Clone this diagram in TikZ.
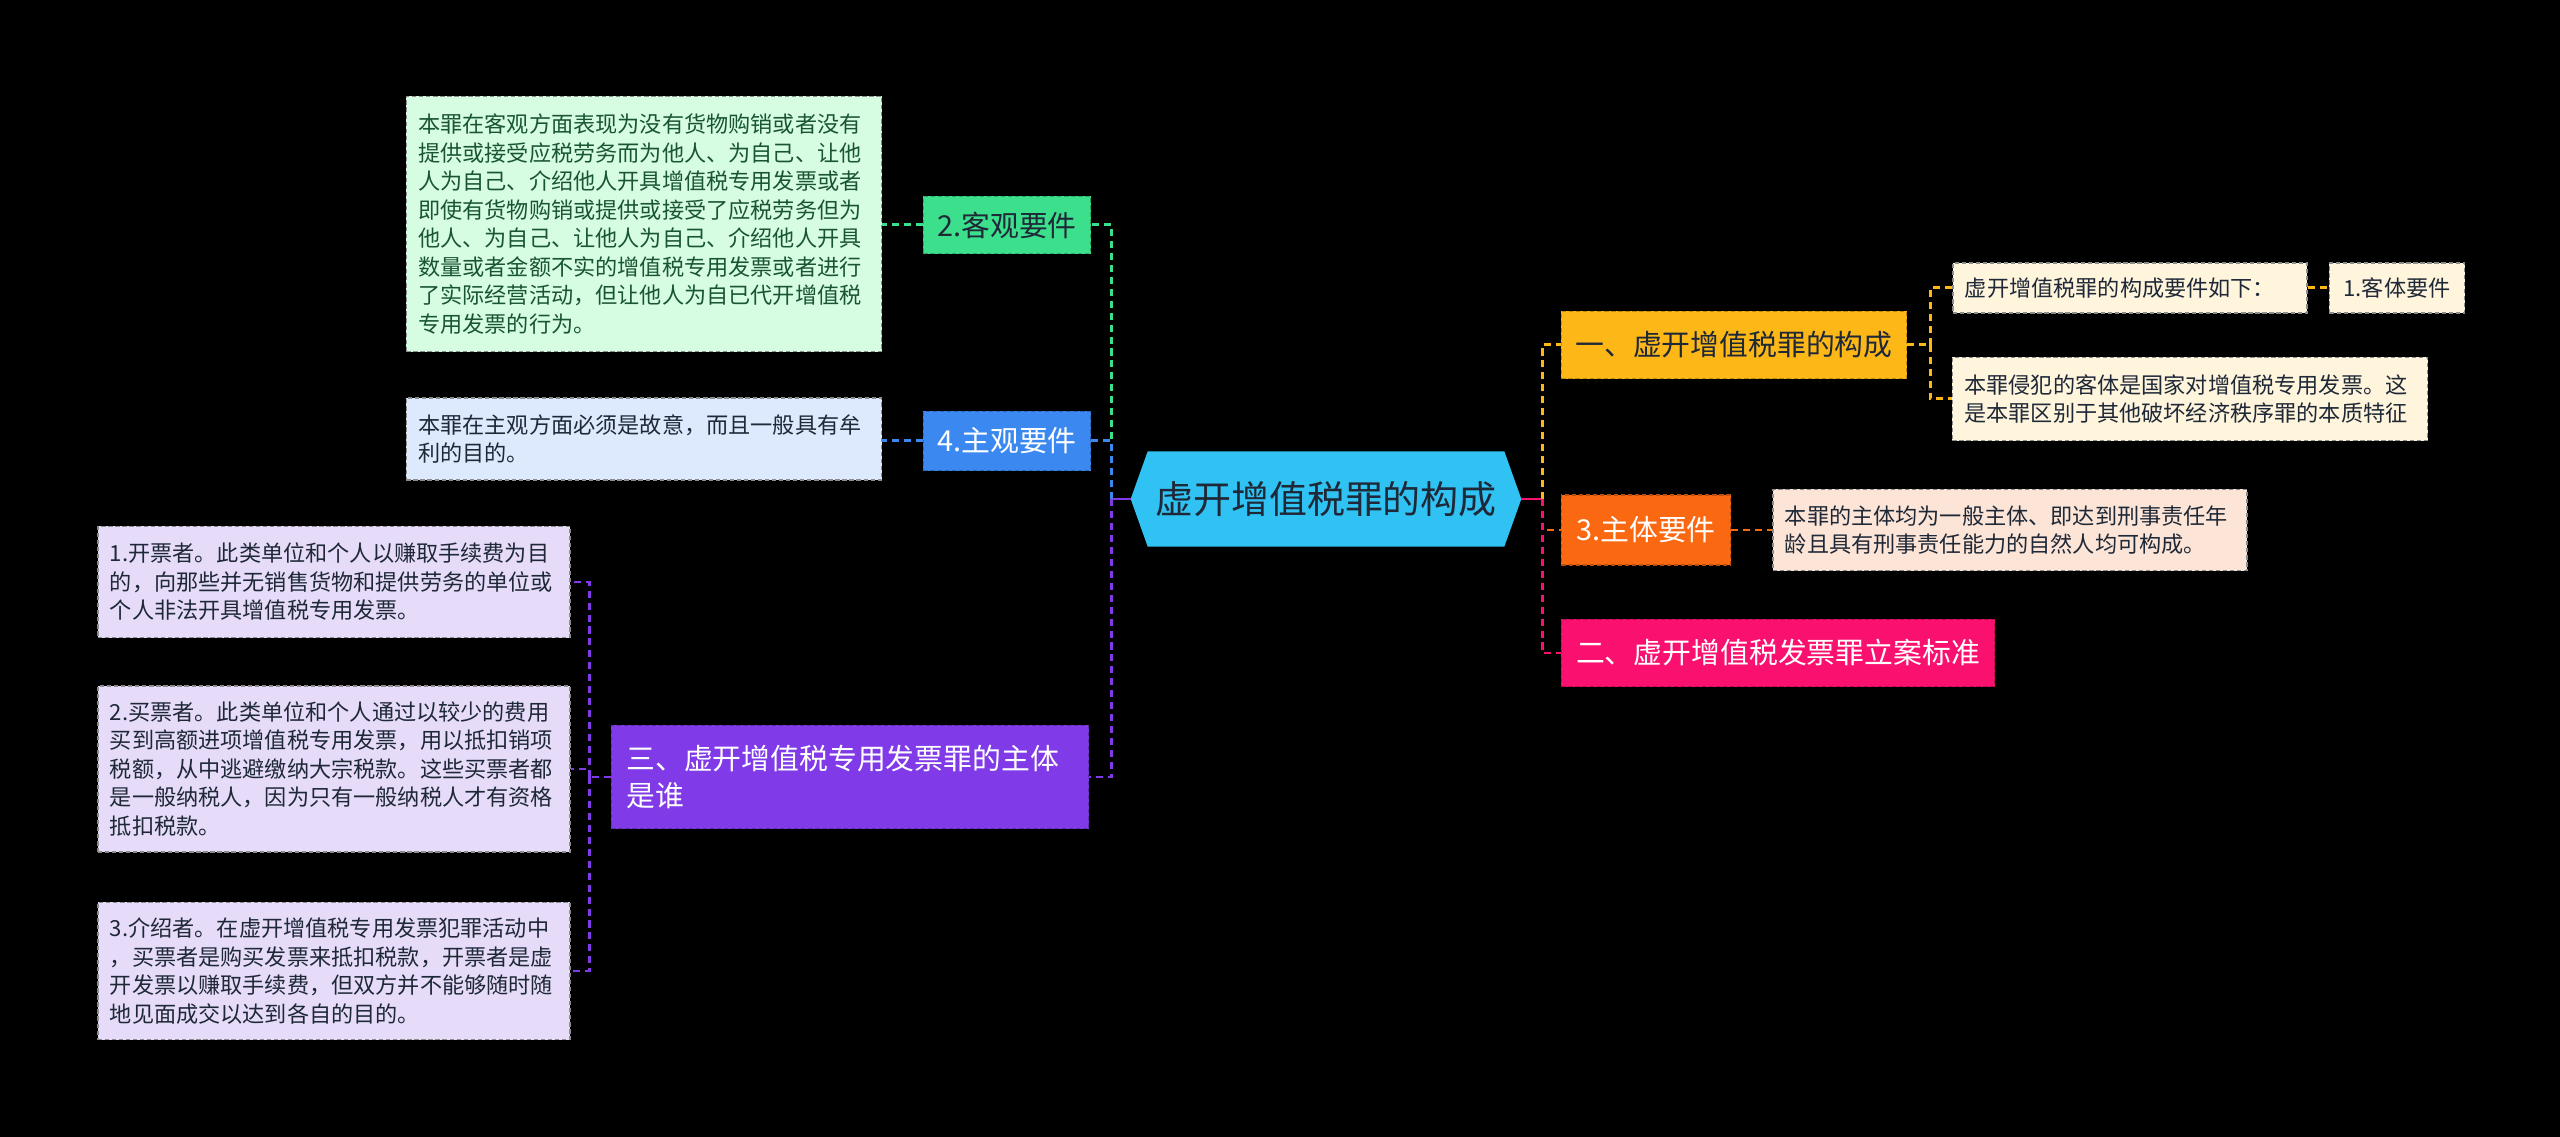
\documentclass[tikz,border=0pt]{standalone}
\usepackage{fontspec}
\usepackage{xcolor}
\usepackage{tikz}
\usetikzlibrary{backgrounds}
\setmainfont{Noto Sans CJK SC}
\definecolor{croot}{RGB}{48,194,242}
\definecolor{cgreen}{RGB}{60,224,140}
\definecolor{cgreenl}{RGB}{214,252,226}
\definecolor{cgreent}{RGB}{25,85,50}
\definecolor{cblue}{RGB}{59,137,240}
\definecolor{cbluel}{RGB}{221,233,252}
\definecolor{cpurple}{RGB}{128,58,232}
\definecolor{cpurplel}{RGB}{230,220,250}
\definecolor{cgold}{RGB}{253,184,24}
\definecolor{cgoldl}{RGB}{255,244,220}
\definecolor{corange}{RGB}{250,104,18}
\definecolor{corangel}{RGB}{252,228,214}
\definecolor{cpink}{RGB}{250,16,110}
\definecolor{cdark}{RGB}{30,40,55}

\begin{document}
\begin{tikzpicture}[x=0.01cm, y=-0.01cm,
  every node/.style={inner sep=0pt, font=\fontsize{8.2}{10.5}\selectfont},
  topic/.style={fill=#1, draw=#1!75!black, dash pattern=on 1.2pt off 0.8pt, line width=0.4pt, align=center},
  leaf/.style={fill=#1, draw=black!45, dash pattern=on 1.2pt off 0.8pt, line width=0.4pt, align=left,
    inner xsep=0.12cm, font=\fontsize{6.3}{8.1}\selectfont},
  link/.style={draw=#1, line width=0.85pt, dash pattern=on 2pt off 1.4pt}]
\begin{scope}[on background layer]
\fill[black] (0,0) rectangle (2560,1137);
\end{scope}
\useasboundingbox (0,0) rectangle (2560,1137);

\node[minimum width=3.89cm, minimum height=0.94cm, text=cdark, font=\fontsize{10.8}{13}\selectfont] (root) at (1326,499) {虚开增值税罪的构成};
\begin{scope}[on background layer]
\fill[croot] (root.west) -- ([xshift=0.17cm]root.north west) -- ([xshift=-0.17cm]root.north east) -- (root.east)
  -- ([xshift=-0.17cm]root.south east) -- ([xshift=0.17cm]root.south west) -- cycle;
\end{scope}

\node[topic=cgreen, minimum width=1.67cm, minimum height=0.57cm, text=cdark] (obj) at (1007,225) {2.客观要件};
\node[leaf=cgreenl, text width=4.51cm, minimum height=2.55cm, text=cgreent] (objtxt) at (644,224)
  {本罪在客观方面表现为没有货物购销或者没有\\提供或接受应税劳务而为他人、为自己、让他\\人为自己、介绍他人开具增值税专用发票或者\\即使有货物购销或提供或接受了应税劳务但为\\他人、为自己、让他人为自己、介绍他人开具\\数量或者金额不实的增值税专用发票或者进行\\了实际经营活动，但让他人为自已代开增值税\\专用发票的行为。};
\node[topic=cblue, minimum width=1.67cm, minimum height=0.59cm, text=white] (subj) at (1007,441) {4.主观要件};
\node[leaf=cbluel, text width=4.51cm, minimum height=0.82cm, text=cdark] (subjtxt) at (644,439)
  {本罪在主观方面必须是故意，而且一般具有牟\\利的目的。};
\node[topic=cpurple, minimum width=4.77cm, minimum height=1.03cm, text width=4.47cm, align=left, text=white] (who) at (850,777)
  {三、虚开增值税专用发票罪的主体\\是谁};
\node[leaf=cpurplel, text width=4.48cm, minimum height=1.11cm, text=cdark] (who1) at (334,582)
  {1.开票者。此类单位和个人以赚取手续费为目\\的，向那些并无销售货物和提供劳务的单位或\\个人非法开具增值税专用发票。};
\node[leaf=cpurplel, text width=4.48cm, minimum height=1.66cm, text=cdark] (who2) at (334,769)
  {2.买票者。此类单位和个人通过以较少的费用\\买到高额进项增值税专用发票，用以抵扣销项\\税额，从中逃避缴纳大宗税款。这些买票者都\\是一般纳税人，因为只有一般纳税人才有资格\\抵扣税款。};
\node[leaf=cpurplel, text width=4.48cm, minimum height=1.37cm, text=cdark] (who3) at (334,971)
  {3.介绍者。在虚开增值税专用发票犯罪活动中\\，买票者是购买发票来抵扣税款，开票者是虚\\开发票以赚取手续费，但双方并不能够随时随\\地见面成交以达到各自的目的。};

\node[topic=cgold, minimum width=3.45cm, minimum height=0.67cm, text=cdark] (sec1) at (1734,345) {一、虚开增值税罪的构成};
\node[leaf=cgoldl, text width=3.3cm, minimum height=0.5cm, text=cdark] (elem) at (2130,288) {虚开增值税罪的构成要件如下：};
\node[leaf=cgoldl, minimum width=1.35cm, minimum height=0.5cm, align=center, text=cdark] (elem1) at (2397,288) {1.客体要件};
\node[leaf=cgoldl, text width=4.51cm, minimum height=0.83cm, text=cdark] (elem2) at (2190,399)
  {本罪侵犯的客体是国家对增值税专用发票。这\\是本罪区别于其他破坏经济秩序罪的本质特征};
\node[topic=corange, minimum width=1.69cm, minimum height=0.7cm, text=white] (body) at (1646,530) {3.主体要件};
\node[leaf=corangel, text width=4.5cm, minimum height=0.81cm, text=cdark] (bodytxt) at (2010,530)
  {本罪的主体均为一般主体、即达到刑事责任年\\龄且具有刑事责任能力的自然人均可构成。};
\node[topic=cpink, minimum width=4.33cm, minimum height=0.67cm, text=white] (sec2) at (1778,653) {二、虚开增值税发票罪立案标准};

\draw[cpurple, line width=0.85pt] (root.west) -- ++(-19,0) coordinate (lj);
\draw[link=cgreen] (lj) |- (obj.east);
\draw[link=cblue] (lj) |- (subj.east);
\draw[link=cpurple] (lj) |- (who.east);
\draw[link=cgreen] (obj.west) -- (objtxt.east |- obj.west);
\draw[link=cblue] (subj.west) -- (subjtxt.east |- subj.west);
\draw[link=cpurple] (who.west) -- ++(-21,0) coordinate (pj);
\draw[link=cpurple] (pj) |- (who1.east);
\draw[link=cpurple] (pj) |- (who2.east);
\draw[link=cpurple] (pj) |- (who3.east);

\draw[cpink, line width=0.85pt] (root.east) -- ++(21,0) coordinate (rj);
\draw[link=cgold] (rj) |- (sec1.west);
\draw[link=corange] (rj) |- (body.west);
\draw[link=cpink] (rj) |- (sec2.west);
\draw[link=cgold] (sec1.east) -- ++(23,0) coordinate (gj);
\draw[link=cgold] (gj) |- (elem.west);
\draw[link=cgold] (gj) |- (elem2.west);
\draw[link=cgold] (elem.east) -- (elem1.west);
\draw[link=corange] (body.east) -- (bodytxt.west);
\end{tikzpicture}
\end{document}
